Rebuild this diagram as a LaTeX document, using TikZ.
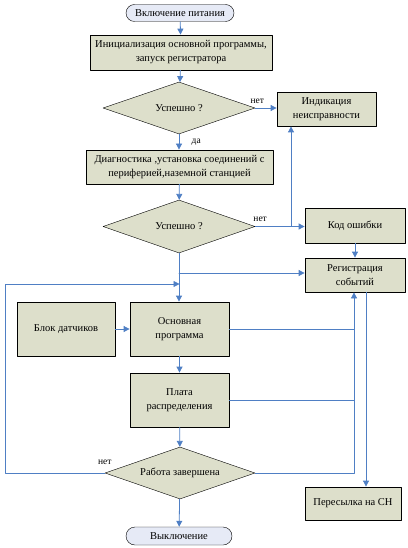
\documentclass[tikz,border=0pt]{standalone}
\usepackage{fontspec}
\setmainfont{Liberation Serif}
\usetikzlibrary{shapes.geometric,shapes.misc,arrows.meta}
\definecolor{boxfill}{HTML}{DDDFCB}
\definecolor{termfill}{HTML}{E6EAF6}
\definecolor{linkblue}{HTML}{4F7FC4}
\begin{document}
	\begin{tikzpicture}[x=1pt,y=-1pt,line cap=round,line join=round,font=\fontsize{10.5}{14}\selectfont,
			>={Triangle[length=6pt,width=6pt]},
			block/.style={draw,fill=boxfill,thick,align=center,inner sep=1pt},
			term/.style={draw,fill=termfill,rounded rectangle,align=center,inner sep=1pt},
			decide/.style={draw,fill=boxfill,diamond,aspect=2.9,inner sep=0pt,align=center},
			link/.style={draw=linkblue,thick},
			lbl/.style={font=\fontsize{9.5}{10}\selectfont}]
			\useasboundingbox (0,0) rectangle (407,548);
			\node[term,minimum width=110,minimum height=17] (start) at (180,13) {Включение питания};
			\node[block,minimum width=182,minimum height=35] (init) at (181,52.5) {Инициализация основной программы,\\запуск регистратора};
			\node[decide,minimum width=152,minimum height=52] (chk1) at (179,108) {Успешно ?};
			\node[block,minimum width=99,minimum height=34] (fault) at (326.5,109) {Индикация\\неисправности};
			\node[block,minimum width=187,minimum height=34] (diag) at (179.5,167) {Диагностика ,установка соединений с\\периферией,наземной станцией};
			\node[decide,minimum width=152,minimum height=53] (chk2) at (179,226.5) {Успешно ?};
			\node[block,minimum width=100,minimum height=35] (err) at (355,225.5) {Код ошибки};
			\node[block,minimum width=100,minimum height=34] (log) at (355,275) {Регистрация\\событий};
			\node[block,minimum width=98,minimum height=54] (sens) at (66,329) {Блок датчиков};
			\node[block,minimum width=99,minimum height=54] (main) at (179.5,329) {Основная\\программа};
			\node[block,minimum width=99,minimum height=54] (board) at (179.5,400) {Плата\\распределения};
			\node[decide,minimum width=150,minimum height=52] (chk3) at (180,473) {Работа завершена};
			\node[term,minimum width=108,minimum height=18] (off) at (179,536) {Выключение};
			\node[block,minimum width=96,minimum height=33] (send) at (353,503.5) {Пересылка на СН};
			\coordinate (fork) at (291,226);
			\coordinate (join) at (179,273);
			\coordinate (back) at (5,284);
			\coordinate (bus) at (354,473);
			\coordinate (tap) at (366,0);
			\draw[link,->] (start) -- (init);
			\draw[link,->] (init) -- (chk1);
			\draw[link,->] (chk1.east) -- node[lbl,pos=0.1,above=1pt] {нет} (fault.west |- chk1.east);
			\draw[link,->] (chk1.south) -- node[lbl,pos=0.5,right=9pt] {да} (diag.north -| chk1.south);
			\draw[link,->] (diag) -- (chk2);
			\draw[link,->] (chk2.east) -- node[lbl,pos=0.1,above=1pt] {нет} (err.west |- chk2.east);
			\draw[link,->] (fork) -- (fault.south -| fork);
			\draw[link,->] (err) -- (log);
			\draw[link,->] (chk2.south) -- (main.north -| chk2.south);
			\draw[link,->] (join) -- (log.west |- join);
			\draw[link,->] (chk3.west) -| (back) -- (main.north |- back);
			\path (chk3.west) node[lbl,above=5pt] {нет};
			\draw[link,->] (sens) -- (main);
			\draw[link,->] (main) -- (board);
			\draw[link,->] (board) -- (chk3);
			\draw[link,->] (chk3) -- (off);
			\draw[link] (main.east) -- (main.east -| bus);
			\draw[link] (board.east) -- (board.east -| bus);
			\draw[link,->] (chk3.east) -- (bus) -- (log.south -| bus);
			\draw[link,->] (log.south -| tap) -- (send.north -| tap);
	\end{tikzpicture}
\end{document}
